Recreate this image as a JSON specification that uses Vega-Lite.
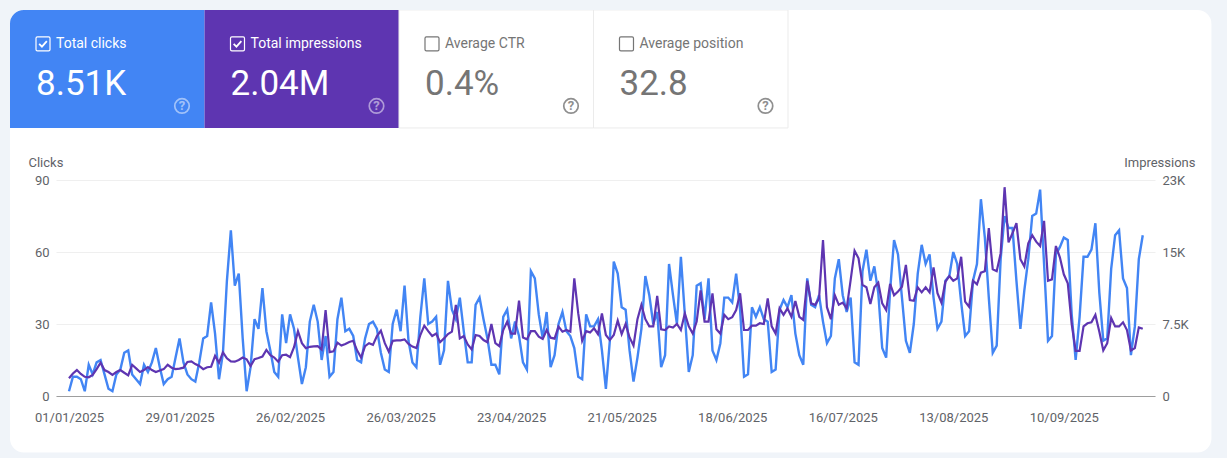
{"$schema":"https://vega.github.io/schema/vega-lite/v6.json","width":1099,"height":216,"autosize":{"type":"none"},"padding":{"left":56,"top":180,"right":72,"bottom":62},"background":"#ffffff","config":{"font":"Roboto","view":{"stroke":null}},
"datasets":{"tiles":[{"metric":"Total clicks","value":"8.51K","i":0,"j":1,"selected":true},{"metric":"Total impressions","value":"2.04M","i":1,"j":2,"selected":true},{"metric":"Average CTR","value":"0.4%","i":2,"j":3,"selected":false},{"metric":"Average position","value":"32.8","i":3,"j":4,"selected":false}],
"daily":[{"d":"2025-01-01","c":2,"m":1850},{"d":"2025-01-02","c":8,"m":2350},{"d":"2025-01-03","c":8,"m":2700},{"d":"2025-01-04","c":7,"m":2300},{"d":"2025-01-05","c":2,"m":2000},{"d":"2025-01-06","c":13,"m":1950},{"d":"2025-01-07","c":9,"m":2200},{"d":"2025-01-08","c":14,"m":2800},{"d":"2025-01-09","c":15,"m":3475},{"d":"2025-01-10","c":9,"m":2700},{"d":"2025-01-11","c":3,"m":2500},{"d":"2025-01-12","c":2,"m":2200},{"d":"2025-01-13","c":9,"m":2500},{"d":"2025-01-14","c":11,"m":2700},{"d":"2025-01-15","c":18,"m":2425},{"d":"2025-01-16","c":19,"m":2150},{"d":"2025-01-17","c":9,"m":3250},{"d":"2025-01-18","c":7,"m":2875},{"d":"2025-01-19","c":5,"m":2500},{"d":"2025-01-20","c":13,"m":2700},{"d":"2025-01-21","c":10,"m":3000},{"d":"2025-01-22","c":14,"m":2700},{"d":"2025-01-23","c":20,"m":2500},{"d":"2025-01-24","c":12,"m":2650},{"d":"2025-01-25","c":5,"m":2800},{"d":"2025-01-26","c":7,"m":3250},{"d":"2025-01-27","c":8,"m":2950},{"d":"2025-01-28","c":16,"m":2800},{"d":"2025-01-29","c":24,"m":2850},{"d":"2025-01-30","c":14,"m":2950},{"d":"2025-01-31","c":9,"m":3550},
{"d":"2025-02-01","c":7,"m":3600},{"d":"2025-02-02","c":6,"m":3325},{"d":"2025-02-03","c":14,"m":3125},{"d":"2025-02-04","c":24,"m":2800},{"d":"2025-02-05","c":25,"m":3000},{"d":"2025-02-06","c":39,"m":3050},{"d":"2025-02-07","c":26,"m":4175},{"d":"2025-02-08","c":7,"m":3475},{"d":"2025-02-09","c":18,"m":4550},{"d":"2025-02-10","c":48,"m":3925},{"d":"2025-02-11","c":69,"m":3600},{"d":"2025-02-12","c":46,"m":3575},{"d":"2025-02-13","c":51,"m":3750},{"d":"2025-02-14","c":24,"m":4000},{"d":"2025-02-15","c":2,"m":3825},{"d":"2025-02-16","c":12,"m":3125},{"d":"2025-02-17","c":32,"m":3825},{"d":"2025-02-18","c":28,"m":3950},{"d":"2025-02-19","c":45,"m":4100},{"d":"2025-02-20","c":27,"m":4800},{"d":"2025-02-21","c":19,"m":4250},{"d":"2025-02-22","c":10,"m":4000},{"d":"2025-02-23","c":8,"m":3575},{"d":"2025-02-24","c":34,"m":4250},{"d":"2025-02-25","c":22,"m":4300},{"d":"2025-02-26","c":34,"m":4050},{"d":"2025-02-27","c":28,"m":5075},{"d":"2025-02-28","c":16,"m":6750},
{"d":"2025-03-01","c":5,"m":5500},{"d":"2025-03-02","c":12,"m":4975},{"d":"2025-03-03","c":31,"m":5125},{"d":"2025-03-04","c":38,"m":5175},{"d":"2025-03-05","c":31,"m":5200},{"d":"2025-03-06","c":15,"m":4850},{"d":"2025-03-07","c":25,"m":8950},{"d":"2025-03-08","c":8,"m":4575},{"d":"2025-03-09","c":10,"m":4650},{"d":"2025-03-10","c":32,"m":5550},{"d":"2025-03-11","c":41,"m":5250},{"d":"2025-03-12","c":27,"m":5425},{"d":"2025-03-13","c":28,"m":5625},{"d":"2025-03-14","c":25,"m":5750},{"d":"2025-03-15","c":15,"m":4725},{"d":"2025-03-16","c":14,"m":4000},{"d":"2025-03-17","c":24,"m":5200},{"d":"2025-03-18","c":30,"m":5500},{"d":"2025-03-19","c":31,"m":5325},{"d":"2025-03-20","c":28,"m":6250},{"d":"2025-03-21","c":18,"m":6800},{"d":"2025-03-22","c":11,"m":5500},{"d":"2025-03-23","c":10,"m":4625},{"d":"2025-03-24","c":30,"m":5750},{"d":"2025-03-25","c":36,"m":5800},{"d":"2025-03-26","c":27,"m":5800},{"d":"2025-03-27","c":46,"m":5900},{"d":"2025-03-28","c":23,"m":5425},{"d":"2025-03-29","c":14,"m":5150},{"d":"2025-03-30","c":12,"m":5000},{"d":"2025-03-31","c":33,"m":6350},
{"d":"2025-04-01","c":49,"m":7325},{"d":"2025-04-02","c":30,"m":6750},{"d":"2025-04-03","c":31,"m":6250},{"d":"2025-04-04","c":33,"m":6500},{"d":"2025-04-05","c":13,"m":5600},{"d":"2025-04-06","c":19,"m":6000},{"d":"2025-04-07","c":48,"m":6450},{"d":"2025-04-08","c":36,"m":6700},{"d":"2025-04-09","c":32,"m":9500},{"d":"2025-04-10","c":41,"m":6000},{"d":"2025-04-11","c":27,"m":6250},{"d":"2025-04-12","c":14,"m":5375},{"d":"2025-04-13","c":14,"m":4850},{"d":"2025-04-14","c":38,"m":6350},{"d":"2025-04-15","c":41,"m":6250},{"d":"2025-04-16","c":32,"m":5825},{"d":"2025-04-17","c":24,"m":5600},{"d":"2025-04-18","c":13,"m":7500},{"d":"2025-04-19","c":13,"m":5500},{"d":"2025-04-20","c":9,"m":5200},{"d":"2025-04-21","c":33,"m":6875},{"d":"2025-04-22","c":36,"m":7750},{"d":"2025-04-23","c":24,"m":6500},{"d":"2025-04-24","c":31,"m":6500},{"d":"2025-04-25","c":25,"m":9925},{"d":"2025-04-26","c":14,"m":6100},{"d":"2025-04-27","c":11,"m":5900},{"d":"2025-04-28","c":52,"m":6750},{"d":"2025-04-29","c":49,"m":6750},{"d":"2025-04-30","c":34,"m":6175},
{"d":"2025-05-01","c":24,"m":5950},{"d":"2025-05-02","c":35,"m":6875},{"d":"2025-05-03","c":12,"m":6075},{"d":"2025-05-04","c":17,"m":5975},{"d":"2025-05-05","c":30,"m":7225},{"d":"2025-05-06","c":35,"m":6700},{"d":"2025-05-07","c":27,"m":6875},{"d":"2025-05-08","c":25,"m":6700},{"d":"2025-05-09","c":20,"m":12250},{"d":"2025-05-10","c":8,"m":8600},{"d":"2025-05-11","c":7,"m":5750},{"d":"2025-05-12","c":34,"m":6750},{"d":"2025-05-13","c":29,"m":6625},{"d":"2025-05-14","c":29,"m":7050},{"d":"2025-05-15","c":32,"m":6450},{"d":"2025-05-16","c":19,"m":8600},{"d":"2025-05-17","c":3,"m":6350},{"d":"2025-05-18","c":23,"m":5825},{"d":"2025-05-19","c":56,"m":6350},{"d":"2025-05-20","c":51,"m":7850},{"d":"2025-05-21","c":37,"m":6450},{"d":"2025-05-22","c":36,"m":7500},{"d":"2025-05-23","c":19,"m":6100},{"d":"2025-05-24","c":6,"m":5250},{"d":"2025-05-25","c":16,"m":8000},{"d":"2025-05-26","c":28,"m":9500},{"d":"2025-05-27","c":50,"m":8000},{"d":"2025-05-28","c":42,"m":7250},{"d":"2025-05-29","c":30,"m":7250},{"d":"2025-05-30","c":35,"m":10425},{"d":"2025-05-31","c":12,"m":6950},
{"d":"2025-06-01","c":17,"m":6875},{"d":"2025-06-02","c":55,"m":7250},{"d":"2025-06-03","c":42,"m":7125},{"d":"2025-06-04","c":30,"m":7500},{"d":"2025-06-05","c":58,"m":6875},{"d":"2025-06-06","c":34,"m":8600},{"d":"2025-06-07","c":10,"m":7250},{"d":"2025-06-08","c":17,"m":6500},{"d":"2025-06-09","c":46,"m":7750},{"d":"2025-06-10","c":47,"m":11000},{"d":"2025-06-11","c":32,"m":7750},{"d":"2025-06-12","c":49,"m":7750},{"d":"2025-06-13","c":19,"m":10700},{"d":"2025-06-14","c":15,"m":6950},{"d":"2025-06-15","c":22,"m":6500},{"d":"2025-06-16","c":41,"m":8450},{"d":"2025-06-17","c":41,"m":8000},{"d":"2025-06-18","c":39,"m":8200},{"d":"2025-06-19","c":51,"m":8950},{"d":"2025-06-20","c":36,"m":10700},{"d":"2025-06-21","c":8,"m":6875},{"d":"2025-06-22","c":9,"m":6875},{"d":"2025-06-23","c":37,"m":7325},{"d":"2025-06-24","c":33,"m":7325},{"d":"2025-06-25","c":37,"m":7575},{"d":"2025-06-26","c":32,"m":7500},{"d":"2025-06-27","c":31,"m":10175},{"d":"2025-06-28","c":10,"m":7250},{"d":"2025-06-29","c":11,"m":6500},{"d":"2025-06-30","c":36,"m":9125},
{"d":"2025-07-01","c":40,"m":8450},{"d":"2025-07-02","c":37,"m":9125},{"d":"2025-07-03","c":42,"m":8250},{"d":"2025-07-04","c":26,"m":9900},{"d":"2025-07-05","c":17,"m":8250},{"d":"2025-07-06","c":13,"m":7925},{"d":"2025-07-07","c":49,"m":12000},{"d":"2025-07-08","c":38,"m":9650},{"d":"2025-07-09","c":37,"m":9500},{"d":"2025-07-10","c":42,"m":10175},{"d":"2025-07-11","c":31,"m":16250},{"d":"2025-07-12","c":22,"m":9250},{"d":"2025-07-13","c":25,"m":8000},{"d":"2025-07-14","c":49,"m":10500},{"d":"2025-07-15","c":57,"m":9500},{"d":"2025-07-16","c":42,"m":9725},{"d":"2025-07-17","c":35,"m":9125},{"d":"2025-07-18","c":41,"m":12075},{"d":"2025-07-19","c":14,"m":15125},{"d":"2025-07-20","c":13,"m":14350},{"d":"2025-07-21","c":52,"m":11575},{"d":"2025-07-22","c":61,"m":11325},{"d":"2025-07-23","c":48,"m":9575},{"d":"2025-07-24","c":54,"m":11325},{"d":"2025-07-25","c":43,"m":11800},{"d":"2025-07-26","c":20,"m":9650},{"d":"2025-07-27","c":16,"m":8950},{"d":"2025-07-28","c":44,"m":11675},{"d":"2025-07-29","c":65,"m":10500},{"d":"2025-07-30","c":59,"m":10875},{"d":"2025-07-31","c":41,"m":11375},
{"d":"2025-08-01","c":23,"m":13650},{"d":"2025-08-02","c":18,"m":10000},{"d":"2025-08-03","c":30,"m":9925},{"d":"2025-08-04","c":51,"m":11325},{"d":"2025-08-05","c":63,"m":10800},{"d":"2025-08-06","c":55,"m":11325},{"d":"2025-08-07","c":59,"m":10800},{"d":"2025-08-08","c":41,"m":13400},{"d":"2025-08-09","c":28,"m":10700},{"d":"2025-08-10","c":31,"m":9725},{"d":"2025-08-11","c":48,"m":11900},{"d":"2025-08-12","c":50,"m":12500},{"d":"2025-08-13","c":60,"m":12000},{"d":"2025-08-14","c":55,"m":12250},{"d":"2025-08-15","c":39,"m":14500},{"d":"2025-08-16","c":25,"m":9825},{"d":"2025-08-17","c":27,"m":9300},{"d":"2025-08-18","c":48,"m":12000},{"d":"2025-08-19","c":55,"m":11625},{"d":"2025-08-20","c":82,"m":12850},{"d":"2025-08-21","c":66,"m":13000},{"d":"2025-08-22","c":41,"m":17500},{"d":"2025-08-23","c":18,"m":13200},{"d":"2025-08-24","c":21,"m":13000},{"d":"2025-08-25","c":57,"m":14850},{"d":"2025-08-26","c":75,"m":21750},{"d":"2025-08-27","c":70,"m":16000},{"d":"2025-08-28","c":70,"m":16950},{"d":"2025-08-29","c":48,"m":18000},{"d":"2025-08-30","c":28,"m":14250},{"d":"2025-08-31","c":44,"m":13500},
{"d":"2025-09-01","c":57,"m":15900},{"d":"2025-09-02","c":75,"m":16750},{"d":"2025-09-03","c":76,"m":16075},{"d":"2025-09-04","c":86,"m":15625},{"d":"2025-09-05","c":55,"m":18250},{"d":"2025-09-06","c":23,"m":12000},{"d":"2025-09-07","c":25,"m":12150},{"d":"2025-09-08","c":59,"m":15625},{"d":"2025-09-09","c":62,"m":14450},{"d":"2025-09-10","c":66,"m":12675},{"d":"2025-09-11","c":65,"m":11750},{"d":"2025-09-12","c":34,"m":7500},{"d":"2025-09-13","c":15,"m":4700},{"d":"2025-09-14","c":33,"m":4700},{"d":"2025-09-15","c":58,"m":7250},{"d":"2025-09-16","c":58,"m":7575},{"d":"2025-09-17","c":61,"m":7675},{"d":"2025-09-18","c":72,"m":8450},{"d":"2025-09-19","c":43,"m":6700},{"d":"2025-09-20","c":23,"m":4750},{"d":"2025-09-21","c":24,"m":5500},{"d":"2025-09-22","c":53,"m":8125},{"d":"2025-09-23","c":67,"m":7250},{"d":"2025-09-24","c":69,"m":7250},{"d":"2025-09-25","c":49,"m":7675},{"d":"2025-09-26","c":45,"m":6875},{"d":"2025-09-27","c":17,"m":4750},{"d":"2025-09-28","c":29,"m":5000},{"d":"2025-09-29","c":57,"m":7150},{"d":"2025-09-30","c":67,"m":7000}]},
"resolve":{"scale":{"x":"independent","y":"independent"},"axis":{"x":"independent","y":"independent"}},
"layer":[
{"data":{"name":"daily"},"mark":{"type":"line","color":"#4285f4","strokeWidth":2.4,"interpolate":"linear"},"encoding":{"x":{"field":"d","type":"temporal","scale":{"type":"utc","domain":["2024-12-28T17:00:00Z","2025-10-03T02:24:00Z"]},"axis":{"title":null,"values":["2025-01-01T00:00:00Z","2025-01-29T00:00:00Z","2025-02-26T00:00:00Z","2025-03-26T00:00:00Z","2025-04-23T00:00:00Z","2025-05-21T00:00:00Z","2025-06-18T00:00:00Z","2025-07-16T00:00:00Z","2025-08-13T00:00:00Z","2025-09-10T00:00:00Z"],"format":"%d/%m/%Y","grid":false,"ticks":false,"domain":true,"domainColor":"#9e9e9e","domainWidth":1,"labelColor":"#5f6368","labelFont":"Roboto","labelFontSize":13,"labelPadding":15,"labelAngle":0,"labelAlign":"center","labelOverlap":false,"labelFlush":false}},"y":{"field":"c","type":"quantitative","scale":{"domain":[0,90],"nice":false},"axis":{"title":"Clicks","titleAngle":0,"titleAlign":"left","titleBaseline":"middle","titleX":-28,"titleY":-18,"titleFont":"Roboto","titleFontSize":13,"titleFontWeight":"normal","titleColor":"#5f6368","values":[0,30,60,90],"grid":true,"gridColor":"#efefef","ticks":false,"domain":false,"labelColor":"#5f6368","labelFont":"Roboto","labelFontSize":13,"labelPadding":7}}}},
{"data":{"name":"daily"},"mark":{"type":"line","color":"#5e35b1","strokeWidth":2.2,"interpolate":"linear"},"encoding":{"x":{"field":"d","type":"temporal","scale":{"type":"utc","domain":["2024-12-28T17:00:00Z","2025-10-03T02:24:00Z"]},"axis":null},"y":{"field":"m","type":"quantitative","scale":{"domain":[0,22500],"nice":false},"axis":{"orient":"right","title":"Impressions","titleAngle":0,"titleAlign":"right","titleBaseline":"middle","titleX":40,"titleY":-18,"titleFont":"Roboto","titleFontSize":13,"titleFontWeight":"normal","titleColor":"#5f6368","values":[0,7500,15000,22500],"labelExpr":"datum.value==22500?'23K':datum.value==15000?'15K':datum.value==7500?'7.5K':'0'","grid":false,"ticks":false,"domain":false,"labelColor":"#5f6368","labelFont":"Roboto","labelFontSize":13,"labelPadding":7}}}},
{"data":{"name":"tiles"},"mark":{"type":"rect","strokeWidth":1},"encoding":{"x":{"field":"i","type":"quantitative","scale":{"domain":[0.2365,5.887],"nice":false,"zero":false},"axis":null},"x2":{"field":"j"},"y":{"datum":0,"type":"quantitative","scale":{"domain":[3.271,1.441],"nice":false,"zero":false},"axis":null},"y2":{"datum":1},"fill":{"condition":[{"test":"datum.i===0","value":"#4285f4"},{"test":"datum.i===1","value":"#5e35b1"}],"value":"#ffffff"},"stroke":{"condition":{"test":"datum.selected","value":"transparent"},"value":"#ebebeb"}}},
{"data":{"name":"tiles"},"mark":{"type":"text","align":"left","baseline":"middle","dx":46,"dy":34,"font":"Roboto","fontSize":14},"encoding":{"x":{"field":"i","type":"quantitative","scale":{"domain":[0.2365,5.887],"nice":false,"zero":false},"axis":null},"y":{"datum":0,"type":"quantitative","scale":{"domain":[3.271,1.441],"nice":false,"zero":false},"axis":null},"text":{"field":"metric"},"color":{"condition":{"test":"datum.selected","value":"#ffffff"},"value":"#757575"}}},
{"data":{"name":"tiles"},"mark":{"type":"text","align":"left","baseline":"middle","dx":26,"dy":74,"font":"Roboto","fontSize":35},"encoding":{"x":{"field":"i","type":"quantitative","scale":{"domain":[0.2365,5.887],"nice":false,"zero":false},"axis":null},"y":{"datum":0,"type":"quantitative","scale":{"domain":[3.271,1.441],"nice":false,"zero":false},"axis":null},"text":{"field":"value"},"color":{"condition":{"test":"datum.selected","value":"#ffffff"},"value":"#757575"}}},
{"data":{"name":"tiles"},"mark":{"type":"point","filled":false,"xOffset":33,"yOffset":34,"size":196,"strokeWidth":1.2,"opacity":1,"shape":"M-0.8,-1 H0.8 Q1,-1 1,-0.8 V0.8 Q1,1 0.8,1 H-0.8 Q-1,1 -1,0.8 V-0.8 Q-1,-1 -0.8,-1 Z"},"encoding":{"x":{"field":"i","type":"quantitative","scale":{"domain":[0.2365,5.887],"nice":false,"zero":false},"axis":null},"y":{"datum":0,"type":"quantitative","scale":{"domain":[3.271,1.441],"nice":false,"zero":false},"axis":null},"color":{"condition":{"test":"datum.selected","value":"#ffffff"},"value":"#757575"}}},
{"data":{"name":"tiles"},"transform":[{"filter":"datum.selected"}],"mark":{"type":"point","filled":false,"xOffset":33,"yOffset":34,"size":196,"strokeWidth":1.8,"opacity":1,"color":"#ffffff","shape":"M-0.55,0 L-0.15,0.4 L0.55,-0.4"},"encoding":{"x":{"field":"i","type":"quantitative","scale":{"domain":[0.2365,5.887],"nice":false,"zero":false},"axis":null},"y":{"datum":0,"type":"quantitative","scale":{"domain":[3.271,1.441],"nice":false,"zero":false},"axis":null}}},
{"data":{"name":"tiles"},"mark":{"type":"point","shape":"circle","filled":false,"xOffset":172,"yOffset":96,"size":210,"strokeWidth":1.7},"encoding":{"x":{"field":"i","type":"quantitative","scale":{"domain":[0.2365,5.887],"nice":false,"zero":false},"axis":null},"y":{"datum":0,"type":"quantitative","scale":{"domain":[3.271,1.441],"nice":false,"zero":false},"axis":null},"color":{"condition":{"test":"datum.selected","value":"#ffffff"},"value":"#8f8f8f"},"opacity":{"condition":{"test":"datum.selected","value":0.5},"value":1}}},
{"data":{"name":"tiles"},"mark":{"type":"text","text":"?","align":"center","baseline":"middle","dx":172,"dy":96,"font":"Roboto","fontSize":13,"fontWeight":"bold"},"encoding":{"x":{"field":"i","type":"quantitative","scale":{"domain":[0.2365,5.887],"nice":false,"zero":false},"axis":null},"y":{"datum":0,"type":"quantitative","scale":{"domain":[3.271,1.441],"nice":false,"zero":false},"axis":null},"color":{"condition":{"test":"datum.selected","value":"#ffffff"},"value":"#8f8f8f"},"opacity":{"condition":{"test":"datum.selected","value":0.5},"value":1}}},
{"data":{"values":[{}]},"mark":{"type":"rect","fill":"transparent","stroke":"#f0f4f9","strokeWidth":40,"cornerRadius":34},"encoding":{"x":{"datum":-0.103,"type":"quantitative","scale":{"domain":[0.2365,5.887],"nice":false,"zero":false},"axis":null},"x2":{"datum":6.28},"y":{"datum":-0.169,"type":"quantitative","scale":{"domain":[3.271,1.441],"nice":false,"zero":false},"axis":null},"y2":{"datum":3.919}}}
]}
